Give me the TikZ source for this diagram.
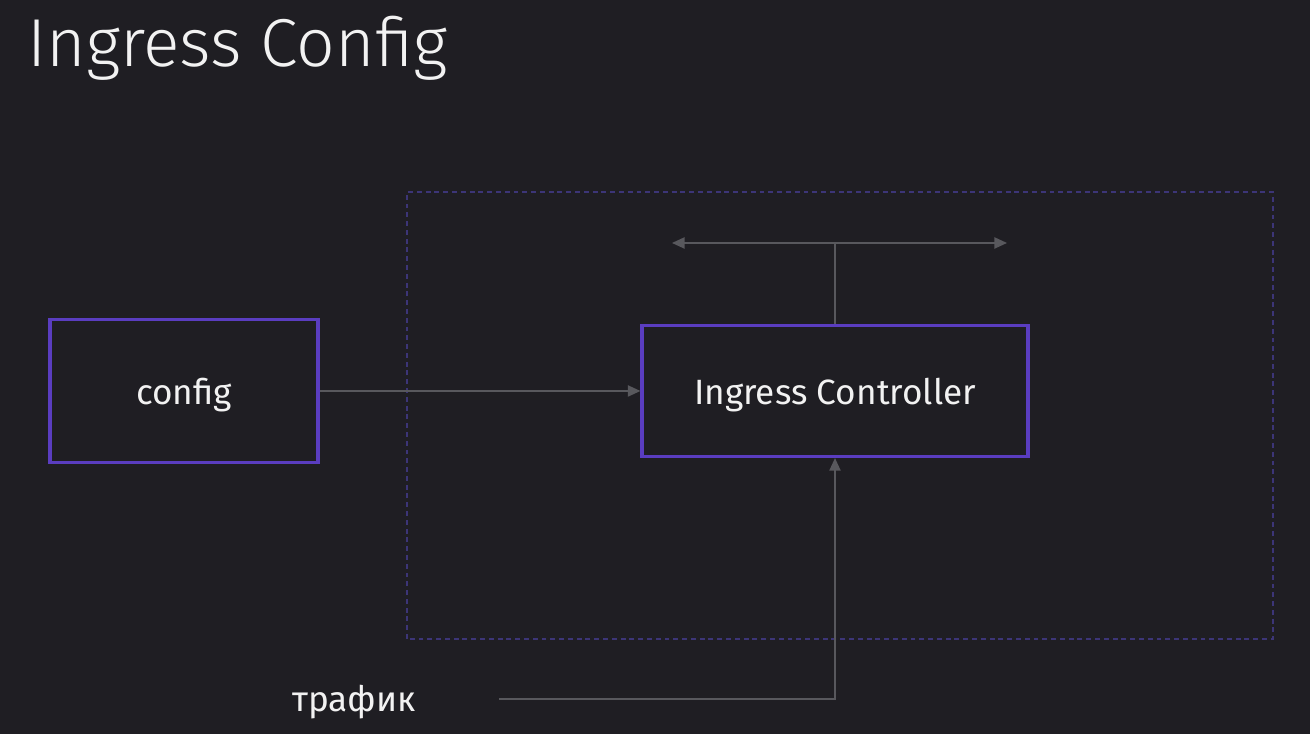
\documentclass[tikz,border=0pt]{standalone}
\usepackage{fontspec}
\setmainfont{Fira Sans}
\newfontfamily\lightfont{Fira Sans}[UprightFont=* Light]
\usetikzlibrary{arrows.meta}
\definecolor{Canvas}{HTML}{1F1E23}
\definecolor{Violet}{HTML}{5A3DC0}
\definecolor{DimViolet}{HTML}{3C3577}
\definecolor{Wire}{HTML}{58585D}
\definecolor{Text}{HTML}{F2F2F2}
\tikzset{
  box/.style={draw=Violet,line width=0.9pt,font=\fontsize{10}{12}\selectfont,text=Text,text depth=0pt},
  wire/.style={draw=Wire,line width=0.45pt,-{Triangle[length=3.6pt,width=3.2pt]}},
}
\begin{document}
\begin{tikzpicture}[every node/.style={text=Text}]
\fill[Canvas] (0,0) rectangle (13.1,7.34);
\node[anchor=base west,font=\lightfont\fontsize{19.3}{22}\selectfont] (title) at (0.15,6.67){Ingress Config};
\draw[DimViolet,line width=0.4pt,dash pattern=on 1.4pt off 1.1pt] (4.07,0.95) rectangle (12.73,5.42);
\node[box,minimum width=2.68cm,minimum height=1.43cm] (config) at (1.84,3.43){config};
\node[box,minimum width=3.86cm,minimum height=1.31cm] (ctrl) at (8.35,3.43){Ingress Controller};
\node[anchor=base,font=\fontsize{10}{12}\selectfont] (traffic) at (3.54,0.22){трафик};
\coordinate (tstart) at (4.99,0.35);
\coordinate (top) at (8.35,4.91);
\coordinate (topl) at (6.72,4.91);
\coordinate (topr) at (10.07,4.91);
\draw[wire] (config.east) -- (ctrl.west);
\draw[wire] (tstart) -| (ctrl.south);
\draw[Wire,line width=0.45pt] (ctrl.north) -- (top);
\draw[wire,{Triangle[length=3.6pt,width=3.2pt]}-{Triangle[length=3.6pt,width=3.2pt]}] (topl) -- (topr);
\end{tikzpicture}
\end{document}
